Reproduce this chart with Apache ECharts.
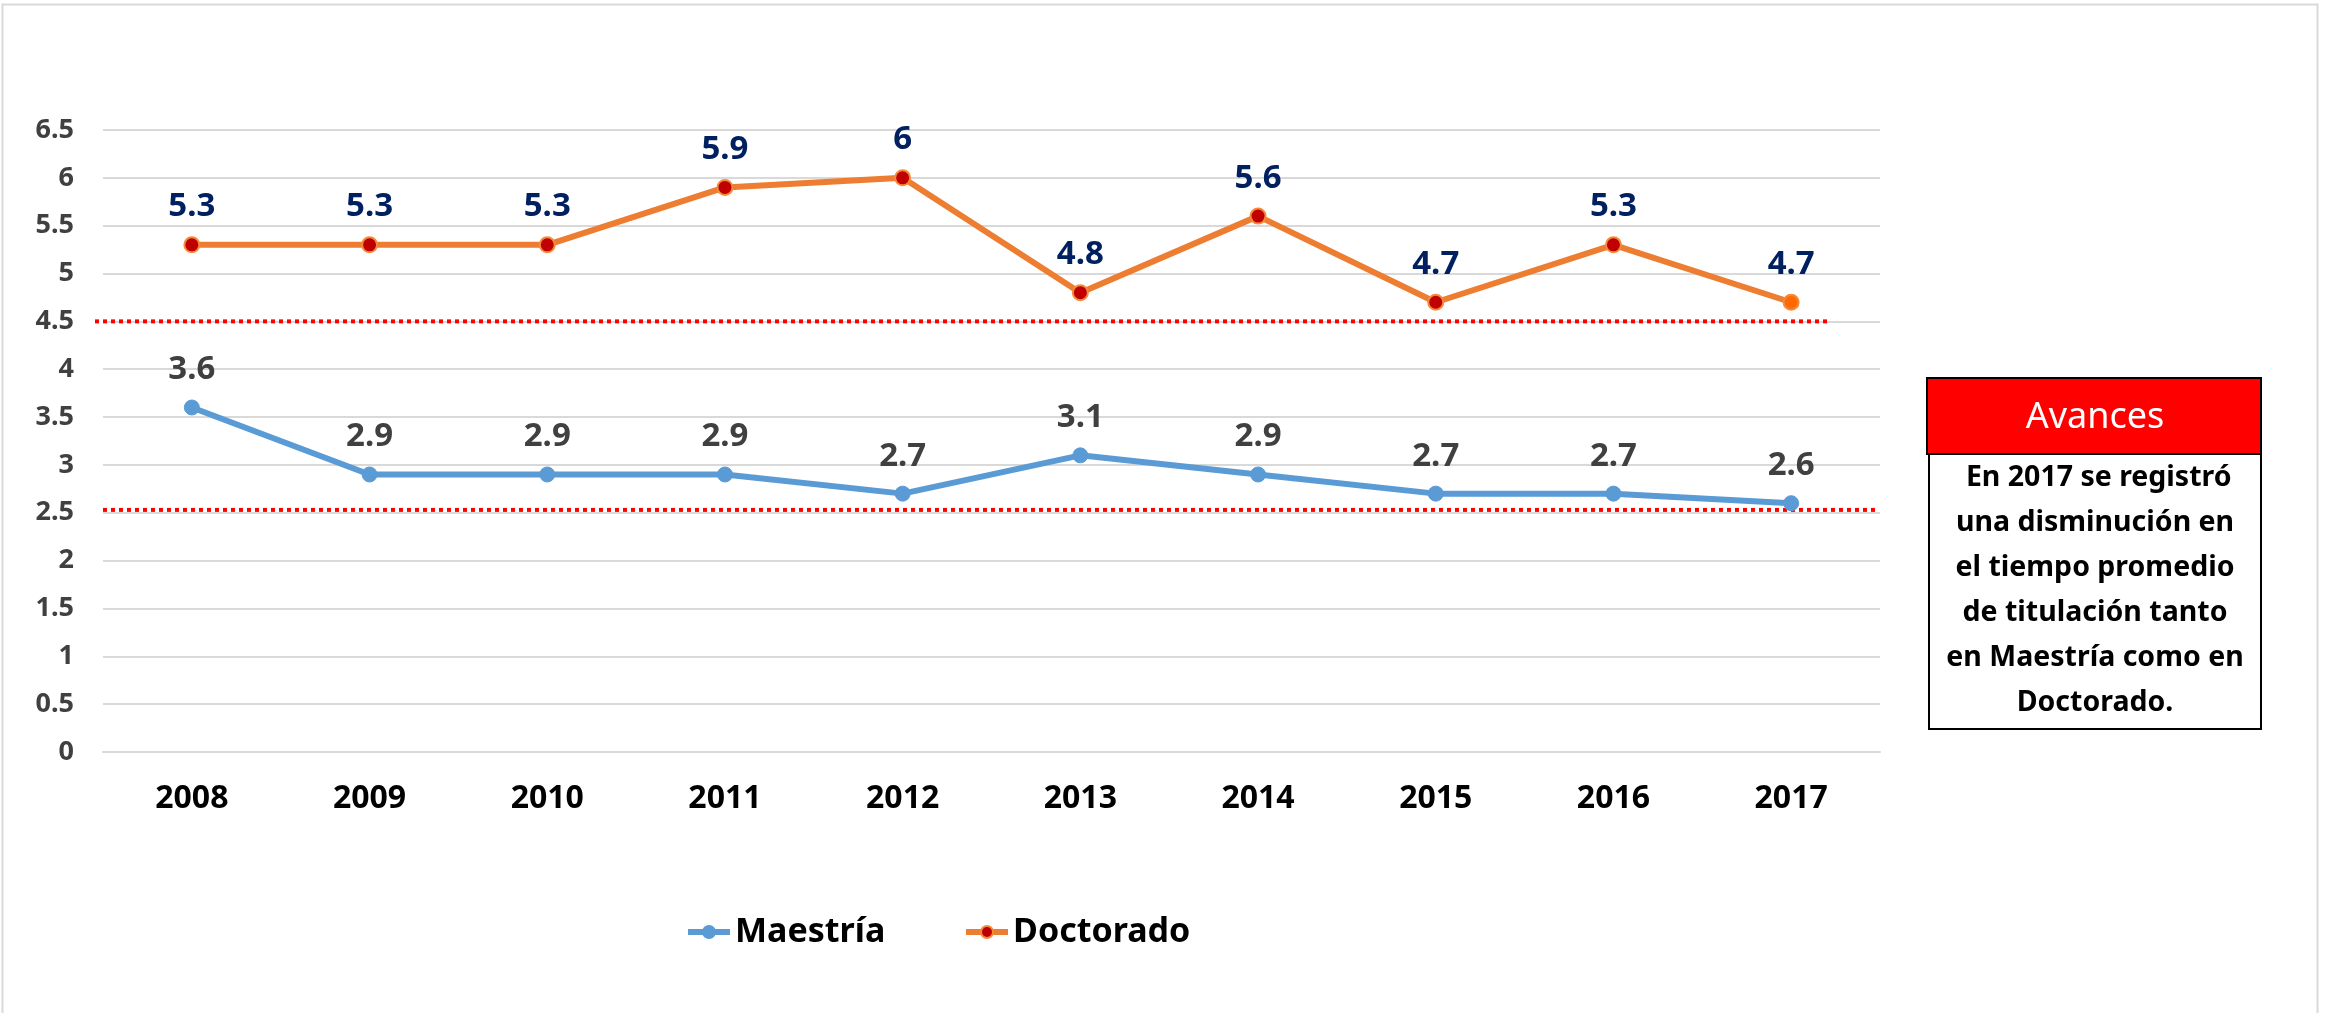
<!DOCTYPE html>
<html>
<head>
<meta charset="utf-8">
<script src="https://cdn.jsdelivr.net/npm/echarts@6/dist/echarts.min.js"></script>
<style>
  html, body { margin: 0; padding: 0; background: #fff; }
  #chart { width: 2328px; height: 1013px; }
</style>
</head>
<body>
<div id="chart"></div>
<script>
// datos
const anios = ["2008", "2009", "2010", "2011", "2012", "2013", "2014", "2015", "2016", "2017"];
const maestria = [3.6, 2.9, 2.9, 2.9, 2.7, 3.1, 2.9, 2.7, 2.7, 2.6];
const doctorado = [5.3, 5.3, 5.3, 5.9, 6, 4.8, 5.6, 4.7, 5.3, 4.7];
const ejeY = { min: 0, max: 6.5, interval: 0.5 };
// lineas punteadas de referencia
const umbralDoctorado = 4.5;
const umbralMaestria = 2.53;
const avancesTitulo = "Avances";
const avancesTexto = [
  " En 2017 se registró",
  "una disminución en",
  "el tiempo promedio",
  "de titulación tanto",
  "en Maestría como en",
  "Doctorado."
];

const FONT = "Noto Sans";
const chart = echarts.init(document.getElementById("chart"));

const doctoradoData = doctorado.map((v, i) =>
  i === doctorado.length - 1
    ? { value: v, itemStyle: { color: "#FF6A00", borderColor: "#F58A3A" } }
    : v
);

const legendText = { fontFamily: FONT, fontWeight: "bold", fontSize: 34, color: "#000" };

chart.setOption({
  animation: false,
  backgroundColor: "#fff",
  grid: { left: 103, right: 448, top: 130, bottom: 261 },
  legend: [
    {
      left: 680, top: 910,
      data: ["Maestría"],
      itemWidth: 42, itemHeight: 15, itemGap: 5,
      lineStyle: { width: 6 },
      textStyle: legendText
    },
    {
      left: 958, top: 910,
      data: ["Doctorado"],
      itemWidth: 42, itemHeight: 15, itemGap: 5,
      lineStyle: { width: 6 },
      textStyle: legendText
    }
  ],
  xAxis: {
    type: "category",
    data: anios,
    boundaryGap: true,
    axisLine: { show: true, lineStyle: { color: "#D9D9D9", width: 2 } },
    axisTick: { show: false },
    axisLabel: {
      margin: 31,
      fontFamily: FONT, fontWeight: "bold", fontSize: 32, color: "#000"
    }
  },
  yAxis: {
    type: "value",
    min: ejeY.min, max: ejeY.max, interval: ejeY.interval,
    axisLine: { show: false },
    axisTick: { show: false },
    axisLabel: {
      margin: 29,
      fontFamily: FONT, fontWeight: "bold", fontSize: 27, color: "#404040"
    },
    splitLine: { lineStyle: { color: "#D9D9D9", width: 2 } }
  },
  series: [
    {
      name: "Maestría",
      type: "line",
      data: maestria,
      symbol: "circle",
      symbolSize: 15,
      lineStyle: { color: "#5B9BD5", width: 6 },
      itemStyle: { color: "#5B9BD5", borderColor: "#5B9BD5", borderWidth: 1 },
      label: {
        show: true, position: "top", distance: 13,
        fontFamily: FONT, fontWeight: "bold", fontSize: 33, color: "#404040"
      },
      z: 3
    },
    {
      name: "Doctorado",
      type: "line",
      data: doctoradoData,
      symbol: "circle",
      symbolSize: 15,
      lineStyle: { color: "#ED7D31", width: 6 },
      itemStyle: { color: "#C00000", borderColor: "#F58A3A", borderWidth: 2 },
      label: {
        show: true, position: "top", distance: 13,
        fontFamily: FONT, fontWeight: "bold", fontSize: 33, color: "#002060"
      },
      z: 3
    }
  ]
});

const yD = chart.convertToPixel({ yAxisIndex: 0 }, umbralDoctorado);
const yM = chart.convertToPixel({ yAxisIndex: 0 }, umbralMaestria);
const punteado = { stroke: "#FF0000", lineWidth: 4, lineDash: [4, 4], lineCap: "butt" };

chart.setOption({
  graphic: [
    {
      type: "rect", silent: true, z: -1,
      shape: { x: 2.5, y: 4.5, width: 2315, height: 1020 },
      style: { fill: "none", stroke: "#D9D9D9", lineWidth: 2 }
    },
    {
      type: "line", silent: true, z: 1,
      shape: { x1: 95, y1: yD, x2: 1830, y2: yD },
      style: punteado
    },
    {
      type: "line", silent: true, z: 1,
      shape: { x1: 103, y1: yM, x2: 1877, y2: yM },
      style: punteado
    },
    {
      type: "rect", silent: true, z: 5,
      shape: { x: 1929, y: 454, width: 332, height: 275 },
      style: { fill: "#fff", stroke: "#000", lineWidth: 2 }
    },
    {
      type: "rect", silent: true, z: 6,
      shape: { x: 1927, y: 378, width: 334, height: 76 },
      style: { fill: "#FF0000", stroke: "#000", lineWidth: 2 }
    },
    {
      type: "text", silent: true, z: 7,
      x: 2095, y: 418,
      style: {
        text: avancesTitulo, fill: "#fff",
        font: "36px '" + FONT + "'",
        align: "center", verticalAlign: "middle"
      }
    },
    {
      type: "text", silent: true, z: 7,
      x: 2095, y: 590,
      style: {
        text: avancesTexto.join("\n"), fill: "#000",
        font: "bold 28.5px '" + FONT + "'",
        lineHeight: 45,
        align: "center", verticalAlign: "middle"
      }
    }
  ]
});
</script>
</body>
</html>
